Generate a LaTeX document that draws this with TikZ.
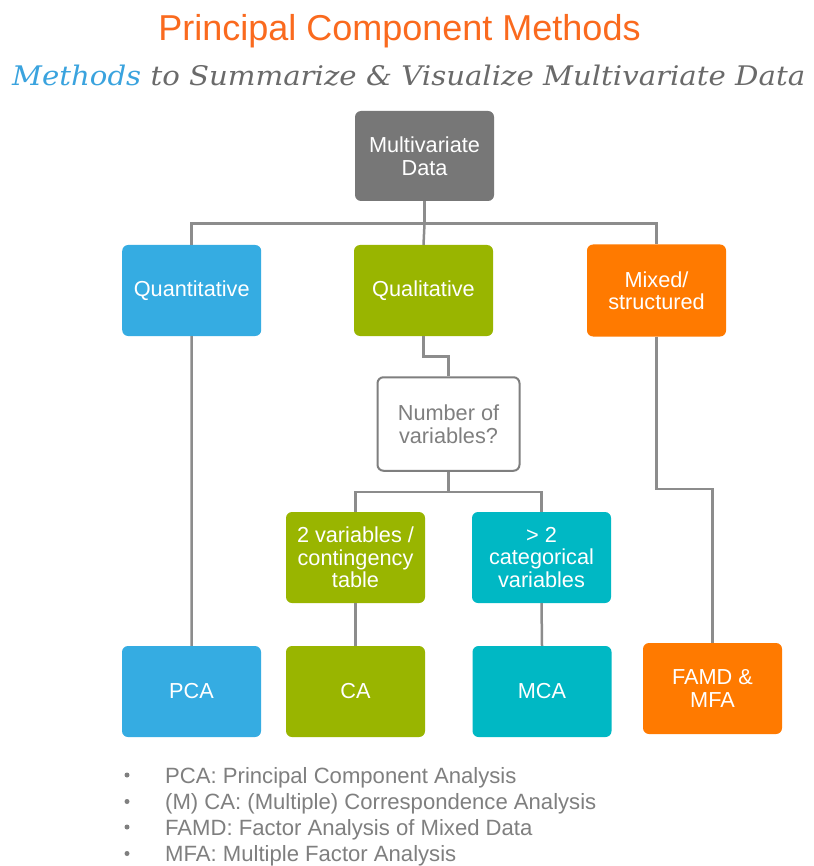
\documentclass[tikz,border=0pt]{standalone}
\usepackage{fontspec}
\usepackage{graphicx}
\setmainfont{Liberation Sans}
\newfontfamily\subserif{DejaVu Serif}
\definecolor{ttlorange}{HTML}{FA6A1E}
\definecolor{subblue}{HTML}{3AA3DE}
\definecolor{subgray}{HTML}{6A6A6A}
\definecolor{bxgray}{HTML}{777777}
\definecolor{bxblue}{HTML}{35ACE2}
\definecolor{bxgreen}{HTML}{99B500}
\definecolor{bxorange}{HTML}{FF7A00}
\definecolor{bxteal}{HTML}{00B8C4}
\definecolor{lngray}{HTML}{8C8C8C}
\definecolor{txgray}{HTML}{7F7F7F}
\tikzset{
  box/.style={rounded corners=6pt, inner sep=0pt, align=center, text=white,
    font=\fontsize{21.7}{22.5}\selectfont, minimum width=139pt, minimum height=91pt},
  conn/.style={draw=lngray, line width=2.5pt},
  bullettext/.style={anchor=base west, inner sep=0pt, text=txgray, font=\fontsize{22.1}{24}\selectfont}
}
\begin{document}
\begin{tikzpicture}[x=1pt,y=-1pt]
\useasboundingbox[fill=white] (0,0) rectangle (813,866);
% titles
\node[anchor=base, inner sep=0pt, text=ttlorange, font=\fontsize{36}{40}\selectfont] (title) at (399.5,40.7) {Principal Component Methods};
\node[anchor=base west, inner sep=0pt] (subtitle) at (12,85.7) {\resizebox{793pt}{20.5pt}{\subserif\itshape\fontsize{26}{30}\selectfont\textcolor{subblue}{Methods} \textcolor{subgray}{to Summarize \& Visualize Multivariate Data}}};
% boxes
\node[box, fill=bxgray, minimum height=90pt] (mv) at (424.5,156) {Multivariate\\Data};
\node[box, fill=bxblue] (quant) at (191.7,290.5) {Quantitative};
\node[box, fill=bxgreen] (qual) at (423.5,290.5) {Qualitative};
\node[box, fill=bxorange, minimum height=92pt] (mixed) at (656.5,290.5) {Mixed/\\structured};
\node[box, fill=white, draw=txgray, line width=2pt, text=txgray, minimum width=142pt, minimum height=93.5pt] (num) at (448.5,424) {Number of\\variables?};
\node[box, fill=bxgreen] (two) at (355.5,557.5) {2 variables /\\contingency\\table};
\node[box, fill=bxteal] (more) at (541.5,557.5) {> 2\\categorical\\variables};
\node[box, fill=bxblue] (pca) at (191.5,691.5) {PCA};
\node[box, fill=bxgreen] (ca) at (355.5,691.5) {CA};
\node[box, fill=bxteal] (mca) at (542,691.5) {MCA};
\node[box, fill=bxorange] (famd) at (712.5,688.5) {FAMD \&\\MFA};
% connectors
\draw[conn] (mv.south) -- ++(0,22.5) coordinate (j1);
\draw[conn] (quant.north) |- (j1) -| (mixed.north);
\draw[conn] (j1) -- (qual.north);
\draw[conn] (qual.south) -- ++(0,20.5) -| (num.north);
\draw[conn] (num.south) -- ++(0,20) coordinate (j2);
\draw[conn] (two.north) |- (j2) -| (more.north);
\draw[conn] (quant.south) -- (pca.north);
\draw[conn] (mixed.south) -- ++(0,152.5) -| (famd.north);
\draw[conn] (two.south) -- (ca.north);
\draw[conn] (more.south) -- (mca.north);
% bullet list
\foreach \yy in {775,801.5,827,853.5} \fill[txgray] (127,\yy) circle (2.5pt);
\node[bullettext] (b1) at (165,783) {PCA: Principal Component Analysis};
\node[bullettext] (b2) at (165,809.5) {(M) CA: (Multiple) Correspondence Analysis};
\node[bullettext] (b3) at (165,835) {FAMD: Factor Analysis of Mixed Data};
\node[bullettext] (b4) at (165,861.5) {MFA: Multiple Factor Analysis};
\end{tikzpicture}
\end{document}
